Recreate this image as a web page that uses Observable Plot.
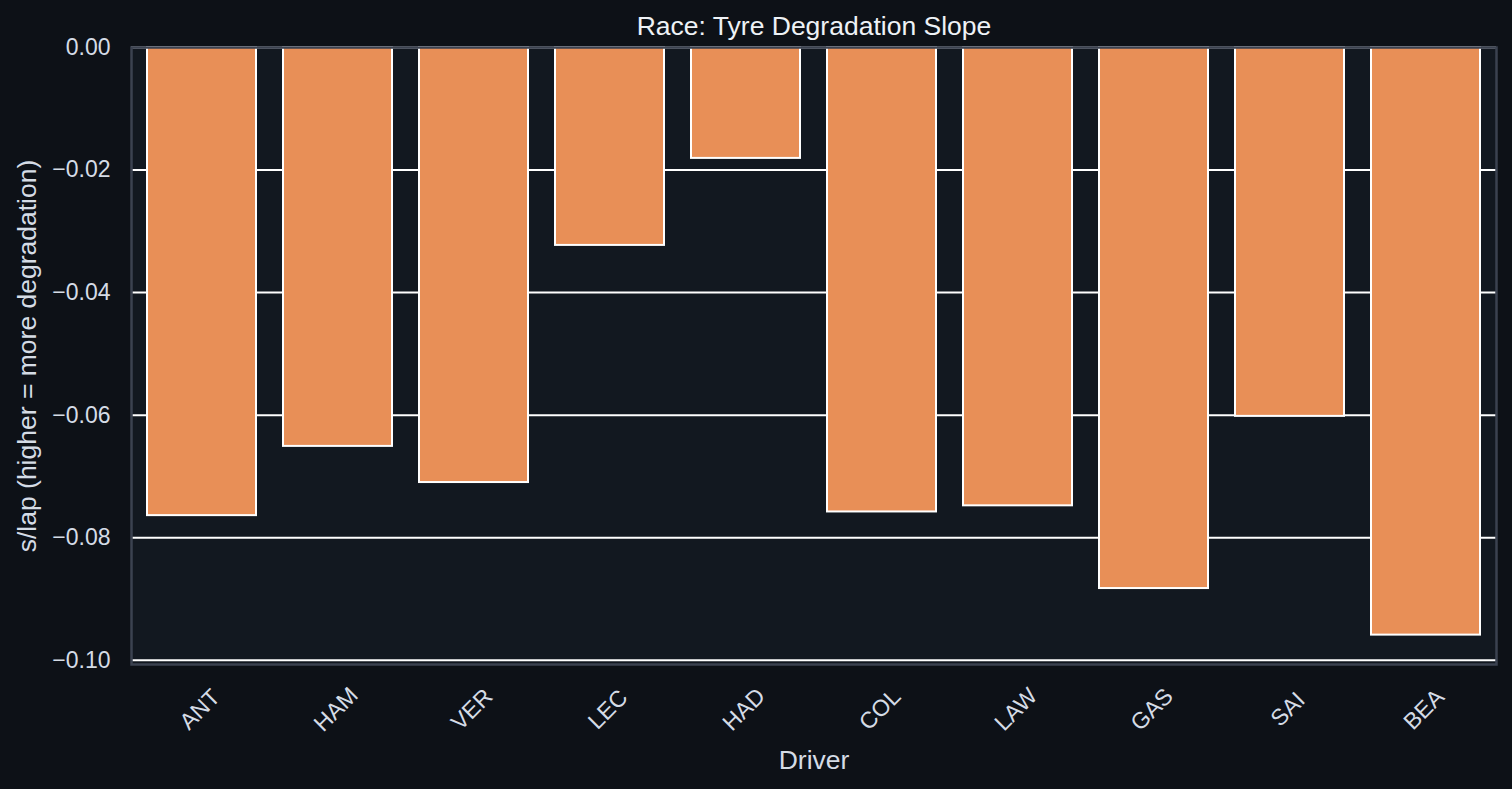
<!DOCTYPE html>
<html>
<head>
<meta charset="utf-8">
<script src="https://cdn.jsdelivr.net/npm/d3@7"></script>
<script src="https://cdn.jsdelivr.net/npm/@observablehq/plot@0.6"></script>
<style>
  html, body { margin: 0; padding: 0; background: #0d1117; }
  #chart svg { display: block; }
</style>
</head>
<body>
<div id="chart"></div>
<script>
// Per-driver race tyre degradation slope (seconds per lap)
const drivers = ["ANT", "HAM", "VER", "LEC", "HAD", "COL", "LAW", "GAS", "SAI", "BEA"];
const slopes = [-0.0764, -0.0651, -0.0710, -0.0323, -0.0181, -0.0758, -0.0748, -0.0883, -0.0602, -0.0959];
const yTicks = [0, -0.02, -0.04, -0.06, -0.08, -0.10];

const titleText = "Race: Tyre Degradation Slope";
const xLabel = "Driver";
const yLabel = "s/lap (higher = more degradation)";

const data = drivers.map((d, i) => ({driver: d, slope: slopes[i]}));

const bg = "#0d1117";
const panel = "#121820";
const spine = "#3b4250";
const textColor = "#d5dce6";
const barColor = "#e88f57";

// leave a 5% margin below the deepest bar, zero stays at the top edge
const yMin = d3.min(slopes) * 1.05;

const chart = Plot.plot({
  width: 1512,
  height: 789,
  marginLeft: 131,
  marginRight: 16,
  marginTop: 47,
  marginBottom: 125,
  style: {background: bg, fontFamily: "'Liberation Sans', Arial, sans-serif", color: textColor},
  x: {type: "band", domain: drivers, paddingInner: 0.2, paddingOuter: 0.1, label: null},
  y: {domain: [yMin, 0], label: null},
  marks: [
    Plot.frame({fill: panel, stroke: null}),
    Plot.ruleY(yTicks, {stroke: "#ffffff", strokeWidth: 2}),
    Plot.barY(data, {x: "driver", y: "slope", fill: barColor, stroke: "#ffffff", strokeWidth: 2}),
    Plot.frame({stroke: spine, strokeWidth: 2.5}),
    Plot.axisY(yTicks, {
      tickSize: 0, tickPadding: 21, tickFormat: d3.format(".2f"),
      fontSize: 23, fill: textColor, label: null
    }),
    Plot.axisX({ticks: [], label: null}),
    // rotated driver codes centred under each bar
    Plot.text(data, {
      x: "driver", frameAnchor: "bottom", dy: 45, dx: -2, rotate: -45,
      text: "driver", textAnchor: "middle", lineAnchor: "middle",
      fontSize: 23, fill: textColor
    }),
    Plot.text([xLabel], {
      frameAnchor: "bottom", dy: 96, lineAnchor: "middle",
      fontSize: 26.5, fill: textColor
    }),
    Plot.text([yLabel], {
      frameAnchor: "left", dx: -104, rotate: -90,
      textAnchor: "middle", lineAnchor: "middle",
      fontSize: 26.5, fill: textColor
    }),
    Plot.text([titleText], {
      frameAnchor: "top", dy: -21, lineAnchor: "middle",
      fontSize: 26.5, fill: "#eef2f6"
    })
  ]
});

document.getElementById("chart").append(chart);
</script>
</body>
</html>
